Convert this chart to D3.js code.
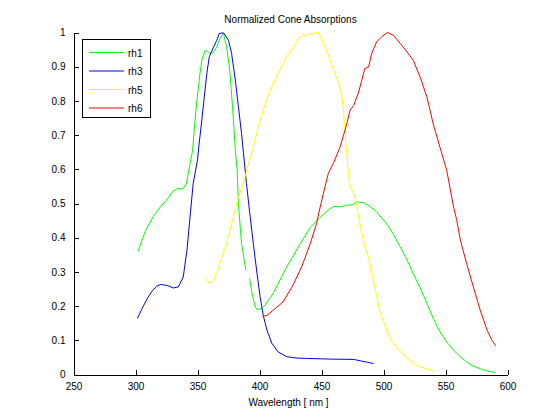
<!DOCTYPE html>
<html>
<head>
<meta charset="utf-8">
<script src="https://cdn.jsdelivr.net/npm/d3@7"></script>
<style>
  body { margin: 0; background: #fff; }
  text { font-family: "Liberation Sans", Arial, sans-serif; font-size: 10px; fill: #000; }
</style>
</head>
<body>
<svg id="chart" width="560" height="420"></svg>
<script>
// wavelength (nm) / normalized absorption
const rh1X = [302, 305, 308, 314, 320, 325, 330, 334, 338, 341, 344, 346, 348, 349.5, 352, 353.5, 356, 357.5, 360, 363, 365.5, 368, 371, 373.5, 376, 377.5, 379, 380.5, 382, 383, 385.5, 389, 390, 392, 394, 396.5, 398, 402, 404.5, 411, 422, 433, 441, 448.5, 455, 460, 465, 470, 475, 478.5, 484, 489, 494.5, 502.5, 508, 513.5, 519, 524, 530, 535, 540, 545.5, 551, 556.5, 562, 567, 572, 578, 584, 590];
const rh1Y = [0.36, 0.39, 0.42, 0.46, 0.49, 0.51, 0.535, 0.544, 0.542, 0.558, 0.617, 0.654, 0.743, 0.80, 0.88, 0.919, 0.946, 0.948, 0.938, 0.943, 0.958, 0.982, 0.997, 0.958, 0.89, 0.82, 0.744, 0.656, 0.597, 0.5, 0.383, 0.305, null, 0.281, 0.237, 0.198, 0.19, 0.193, 0.203, 0.237, 0.315, 0.383, 0.43, 0.458, 0.48, 0.492, 0.49, 0.495, 0.496, 0.505, 0.502, 0.492, 0.475, 0.441, 0.41, 0.373, 0.335, 0.295, 0.25, 0.208, 0.165, 0.125, 0.095, 0.071, 0.052, 0.037, 0.025, 0.017, 0.01, 0.006];

const rh3X = [301.5, 306, 310, 313, 317, 320, 325, 330.5, 334.5, 338.5, 341.5, 344, 346.5, 350, 351, 353.5, 355.5, 357.5, 359.5, 363, 365.5, 367.5, 371, 375, 377.5, 380.5, 383, 385.5, 387, 389.5, 392.5, 395, 398, 400.5, 403, 406, 410, 415, 422, 430, 438, 458, 476, 482.5, 487, 492];
const rh3Y = [0.164, 0.198, 0.225, 0.242, 0.258, 0.263, 0.261, 0.253, 0.256, 0.285, 0.363, 0.461, 0.558, 0.627, 0.665, 0.744, 0.812, 0.88, 0.929, 0.958, 0.977, 0.997, 0.999, 0.977, 0.939, 0.861, 0.783, 0.705, 0.65, 0.558, 0.461, 0.383, 0.295, 0.227, 0.173, 0.13, 0.091, 0.066, 0.052, 0.048, 0.047, 0.045, 0.044, 0.039, 0.036, 0.032];

const rh5X = [357, 359.5, 363, 365.5, 368, 373.5, 379, 383, 387, 390, 395, 399, 403, 408.5, 415, 422, 427.5, 432.5, 439.5, 443.5, 447.5, 450, 454, 458, 461, 463.5, 466.5, 467.7, 469, 470.4, 471.7, 473, 477, 478.5, 481, 485, 488, 493, 497.5, 502.5, 506, 510.5, 519, 527, 535, 540];
const rh5Y = [0.279, 0.266, 0.276, 0.295, 0.325, 0.383, 0.461, 0.519, 0.558, 0.602, 0.665, 0.724, 0.773, 0.831, 0.88, 0.929, 0.958, 0.987, 0.995, 0.997, 1.0, 0.982, 0.948, 0.909, 0.88, 0.856, 0.812, 0.773, 0.705, 0.646, 0.588, 0.553, 0.519, 0.49, 0.441, 0.373, 0.34, 0.256, 0.178, 0.13, 0.1, 0.081, 0.047, 0.027, 0.015, 0.011];

const rh6X = [402.5, 406, 411, 419, 427, 434, 441, 446, 448, 451.5, 455.5, 459.5, 465, 470.5, 473, 476, 480, 482.5, 485, 488, 490.5, 494.5, 498.5, 503, 508, 513.5, 519, 524, 529.5, 535, 540, 545.5, 551, 556.5, 559, 562, 567, 572.5, 578, 583.5, 587.5, 590.5];
const rh6Y = [0.17, 0.173, 0.188, 0.212, 0.261, 0.315, 0.383, 0.441, 0.475, 0.529, 0.588, 0.617, 0.665, 0.734, 0.773, 0.787, 0.826, 0.861, 0.895, 0.899, 0.939, 0.973, 0.987, 1.0, 0.992, 0.968, 0.943, 0.919, 0.87, 0.812, 0.734, 0.665, 0.597, 0.49, 0.453, 0.393, 0.325, 0.256, 0.188, 0.13, 0.1, 0.084];

const seriesNames = ["rh1", "rh3", "rh5", "rh6"];
const seriesColors = ["#00ff00", "#0000ff", "#ffff00", "#ff0000"];
const xTicks = [250, 300, 350, 400, 450, 500, 550, 600];
const yTicks = [0, 0.1, 0.2, 0.3, 0.4, 0.5, 0.6, 0.7, 0.8, 0.9, 1];

const svg = d3.select("#chart");

const plotLeft = 73.5, plotRight = 507.5, plotTop = 32.5, plotBottom = 374.5;

const x = d3.scaleLinear().domain([250, 600]).range([plotLeft, plotRight]);
const y = d3.scaleLinear().domain([0, 1]).range([plotBottom, plotTop]);

// Axes (MATLAB style: ticks pointing inward, no box)
const xAxis = svg
  .append("g")
  .attr("transform", `translate(0,${plotBottom})`)
  .call(
    d3.axisBottom(x)
      .tickValues(xTicks)
      .tickFormat(d3.format("d"))
      .tickSizeInner(-5)
      .tickSizeOuter(0)
      .tickPadding(8)
  );

const yAxis = svg
  .append("g")
  .attr("transform", `translate(${plotLeft},0)`)
  .call(
    d3.axisLeft(y)
      .tickValues(yTicks)
      .tickFormat((d) => (d === 0 || d === 1 ? String(d) : d3.format(".1f")(d)))
      .tickSizeInner(-5)
      .tickSizeOuter(0)
      .tickPadding(8)
  );

[xAxis, yAxis].forEach((g) => {
  g.selectAll("path, line").attr("stroke", "#000").attr("shape-rendering", "crispEdges");
  g.selectAll("text").style("font-size", "10px").attr("font-family", null);
});

// Curves
const series = [
  { xs: rh1X, ys: rh1Y },
  { xs: rh3X, ys: rh3Y },
  { xs: rh5X, ys: rh5Y },
  { xs: rh6X, ys: rh6Y },
];

const line = d3
  .line()
  .defined((d) => d[1] !== null)
  .x((d) => x(d[0]))
  .y((d) => y(d[1]));

series.forEach((s, i) => {
  const pts = s.xs.map((v, j) => [v, s.ys[j]]);
  svg
    .append("path")
    .datum(pts)
    .attr("d", line)
    .attr("fill", "none")
    .attr("stroke", seriesColors[i])
    .attr("stroke-width", 1);
});

// Title and axis label
svg
  .append("text")
  .attr("x", (plotLeft + plotRight) / 2)
  .attr("y", 23)
  .attr("text-anchor", "middle")
  .text("Normalized Cone Absorptions");

svg
  .append("text")
  .attr("x", (plotLeft + plotRight) / 2 - 2)
  .attr("y", 406)
  .attr("text-anchor", "middle")
  .text("Wavelength [ nm ]");

// Legend
const legend = svg.append("g");
legend
  .append("rect")
  .attr("x", 82.5)
  .attr("y", 39.5)
  .attr("width", 68)
  .attr("height", 78)
  .attr("fill", "#fff")
  .attr("stroke", "#000")
  .attr("shape-rendering", "crispEdges");

seriesNames.forEach((name, i) => {
  const ly = 52.5 + i * 18.5;
  legend
    .append("line")
    .attr("x1", 89)
    .attr("x2", 124)
    .attr("y1", ly)
    .attr("y2", ly)
    .attr("stroke", seriesColors[i])
    .attr("stroke-width", 1);
  legend
    .append("text")
    .attr("x", 128)
    .attr("y", ly + 4)
    .text(name);
});
</script>
</body>
</html>
